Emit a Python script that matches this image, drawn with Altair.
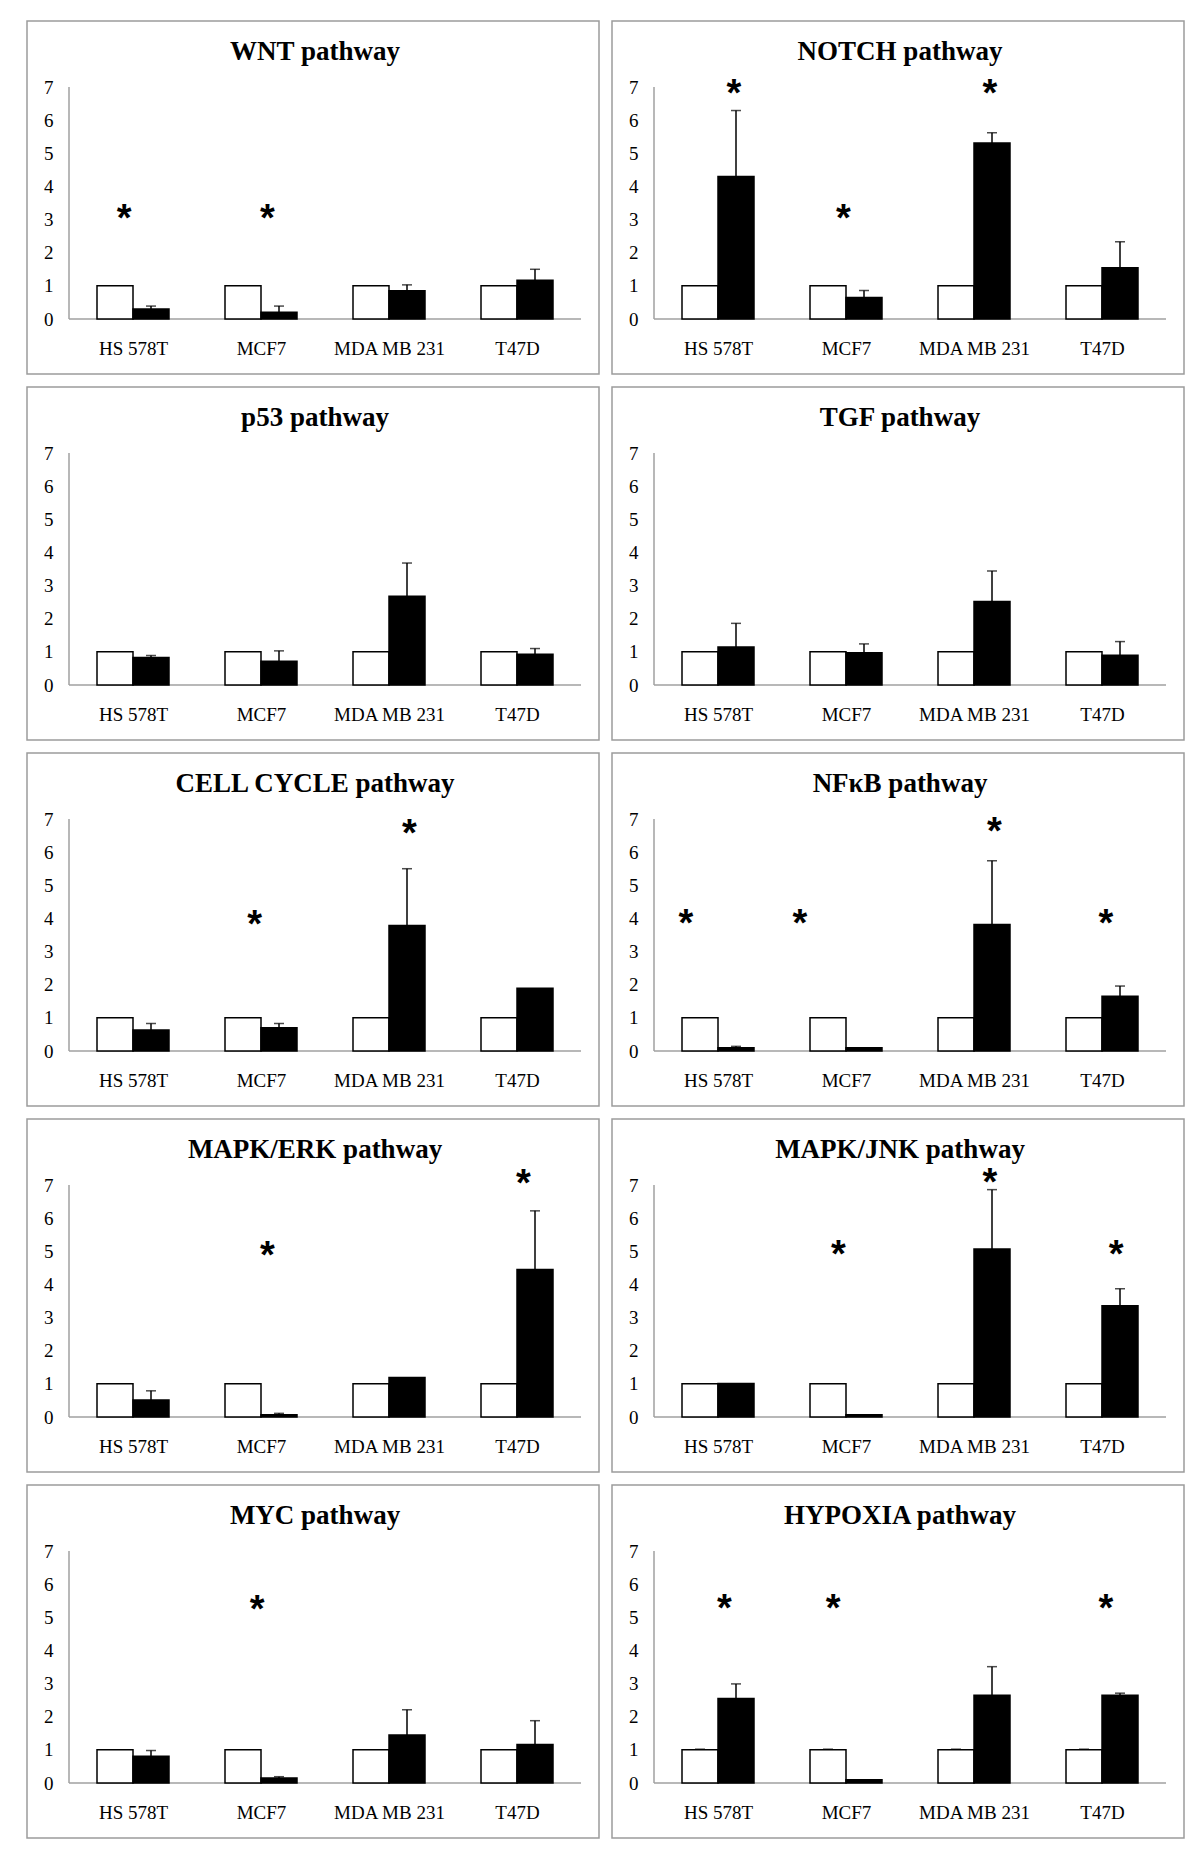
import json
import altair as alt
import pandas as pd

# ---------------- data ----------------
CELLS = ["HS 578T", "MCF7", "MDA MB 231", "T47D"]
CONTROL = [1.0, 1.0, 1.0, 1.0]
NO_ERR = [0.0, 0.0, 0.0, 0.0]

TITLES = ["WNT pathway", "NOTCH pathway", "p53 pathway", "TGF pathway",
          "CELL CYCLE pathway", "NFκB pathway", "MAPK/ERK pathway",
          "MAPK/JNK pathway", "MYC pathway", "HYPOXIA pathway"]

WNT_MEAN = [0.30, 0.20, 0.85, 1.17]
WNT_ERR = [0.09, 0.19, 0.18, 0.33]
WNT_STARS = [[0, 3.29, -0.07], [1, 3.29, 0.05]]

NOTCH_MEAN = [4.30, 0.65, 5.31, 1.55]
NOTCH_ERR = [1.99, 0.21, 0.31, 0.78]
NOTCH_STARS = [[0, 7.07, 0.125], [1, 3.28, -0.02], [2, 7.07, 0.125]]

P53_MEAN = [0.83, 0.72, 2.68, 0.93]
P53_ERR = [0.06, 0.31, 1.00, 0.17]
P53_STARS = []

TGF_MEAN = [1.15, 0.97, 2.52, 0.90]
TGF_ERR = [0.71, 0.27, 0.92, 0.41]
TGF_STARS = []

CC_MEAN = [0.63, 0.70, 3.79, 1.89]
CC_ERR = [0.20, 0.13, 1.71, 0.0]
CC_STARS = [[1, 4.07, -0.05], [2, 6.83, 0.16]]

NFKB_MEAN = [0.10, 0.10, 3.82, 1.65]
NFKB_ERR = [0.04, 0.0, 1.92, 0.31]
NFKB_STARS = [[0, 4.10, -0.25], [1, 4.10, -0.36], [2, 6.87, 0.16], [3, 4.10, 0.03]]

ERK_MEAN = [0.51, 0.07, 1.19, 4.45]
ERK_ERR = [0.28, 0.04, 0.0, 1.77]
ERK_STARS = [[1, 5.13, 0.05], [3, 7.30, 0.05]]

JNK_MEAN = [1.01, 0.07, 5.07, 3.36]
JNK_ERR = [0.0, 0.0, 1.79, 0.51]
JNK_STARS = [[1, 5.17, -0.06], [2, 7.33, 0.125], [3, 5.17, 0.11]]

MYC_MEAN = [0.81, 0.15, 1.45, 1.16]
MYC_ERR = [0.17, 0.04, 0.76, 0.72]
MYC_STARS = [[1, 5.49, -0.03]]

HYP_MEAN = [2.55, 0.10, 2.65, 2.65]
HYP_ERR = [0.44, 0.0, 0.86, 0.06]
HYP_CTRL_ERR = [0.02, 0.02, 0.02, 0.02]
HYP_STARS = [[0, 5.52, 0.05], [1, 5.52, -0.10], [3, 5.52, 0.03]]

Y_TICKS = [0, 1, 2, 3, 4, 5, 6, 7]

# ---------------- layout constants ----------------
PW, PH = 572, 353          # panel box
AX_L, AX_R = 42, 18        # px from box edge to axis ends
AX_T, AX_B = 66, 55        # px from box top to "7", from box bottom to "0"
N = len(CELLS)
UNIT_X = (PW - AX_L - AX_R) / N
YMAX = Y_TICKS[-1]
UNIT_Y = (PH - AX_T - AX_B) / YMAX
XDOM = [-0.5 - AX_L / UNIT_X, N - 0.5 + AX_R / UNIT_X]
YDOM = [-AX_B / UNIT_Y, YMAX + AX_T / UNIT_Y]
BW = 36 / UNIT_X

SERIF = "Liberation Serif"
GRAY = "#a0a0a0"

XSCALE = alt.Scale(domain=XDOM, nice=False, zero=False)
YSCALE = alt.Scale(domain=YDOM, nice=False, zero=False)
XAXIS = alt.Axis(values=list(range(N)),
                 labelExpr=json.dumps(CELLS) + "[datum.value]",
                 offset=-AX_B, domain=False, ticks=False, tickSize=0, grid=False,
                 labelPadding=29, labelBaseline="middle", labelFont=SERIF,
                 labelFontSize=19, labelColor="black", labelFlush=False,
                 labelOverlap=False, title=None)
YAXIS = alt.Axis(values=Y_TICKS, offset=-AX_L, domain=False, ticks=False, tickSize=0,
                 grid=False, labelPadding=16, labelFont=SERIF, labelFontSize=19,
                 labelColor="black", labelFlush=False, labelOverlap=False, title=None)


def X(field):
    return alt.X(field, type="quantitative", scale=XSCALE, axis=XAXIS)


def Y(field):
    return alt.Y(field, type="quantitative", scale=YSCALE, axis=YAXIS)


def panel(title, mean, err, stars, ctrl_err):
    rows = []
    for i, c in enumerate(CELLS):
        rows.append(dict(cell=c, grp="control", x0=i - BW, x1=i, xc=i - BW / 2,
                         v=CONTROL[i], top=CONTROL[i] + ctrl_err[i], e=ctrl_err[i]))
        rows.append(dict(cell=c, grp="treated", x0=i, x1=i + BW, xc=i + BW / 2,
                         v=mean[i], top=mean[i] + err[i], e=err[i]))
    df = pd.DataFrame(rows)
    base = alt.Chart(df)

    axes_df = pd.DataFrame([
        dict(a=-0.5, b=N - 0.5, c=0, d=0),
        dict(a=-0.5, b=-0.5, c=0, d=YMAX),
    ])
    axis_lines = alt.Chart(axes_df).mark_rule(color=GRAY, strokeWidth=1.5).encode(
        x=X("a"), x2="b", y=Y("c"), y2="d")

    bars = base.mark_bar(stroke="black", strokeWidth=1.5).encode(
        x=X("x0"), x2="x1", y=Y("v"), y2=alt.datum(0),
        fill=alt.Fill("grp:N", scale=alt.Scale(domain=["control", "treated"],
                                               range=["white", "black"]), legend=None))

    errs = base.transform_filter("datum.e > 0")
    stems = errs.mark_rule(color="black", strokeWidth=1.5).encode(
        x=X("xc"), y=Y("v"), y2="top")
    caps = errs.mark_tick(color="black", orient="horizontal", size=10, thickness=1.5).encode(
        x=X("xc"), y=Y("top"))

    ttl = alt.Chart(alt.Data(values=[{"t": title}])).mark_text(
        font=SERIF, fontWeight="bold", fontSize=27, align="center", baseline="middle",
        color="black").encode(text="t:N", x=alt.value(PW / 2 + 2), y=alt.value(31))

    layers = [axis_lines, bars, stems, caps, ttl]
    if stars:
        sdf = pd.DataFrame([dict(sx=s[0] + s[2], sy=s[1]) for s in stars])
        star = alt.Chart(sdf).mark_text(
            text="*", font="Liberation Sans", fontWeight="bold", fontSize=38,
            align="center", baseline="alphabetic", dy=21, color="black").encode(
            x=X("sx"), y=Y("sy"))
        layers.append(star)
    return alt.layer(*layers).properties(width=PW, height=PH)


specs = [
    (WNT_MEAN, WNT_ERR, WNT_STARS, NO_ERR),
    (NOTCH_MEAN, NOTCH_ERR, NOTCH_STARS, NO_ERR),
    (P53_MEAN, P53_ERR, P53_STARS, NO_ERR),
    (TGF_MEAN, TGF_ERR, TGF_STARS, NO_ERR),
    (CC_MEAN, CC_ERR, CC_STARS, NO_ERR),
    (NFKB_MEAN, NFKB_ERR, NFKB_STARS, NO_ERR),
    (ERK_MEAN, ERK_ERR, ERK_STARS, NO_ERR),
    (JNK_MEAN, JNK_ERR, JNK_STARS, NO_ERR),
    (MYC_MEAN, MYC_ERR, MYC_STARS, NO_ERR),
    (HYP_MEAN, HYP_ERR, HYP_STARS, HYP_CTRL_ERR),
]
panels = [panel(t, *s) for t, s in zip(TITLES, specs)]
rows = [alt.hconcat(panels[k], panels[k + 1], spacing=11) for k in range(0, len(panels), 2)]

chart = alt.vconcat(*rows, spacing=11).properties(
    padding={"left": 18, "top": 12, "right": 5, "bottom": 5},
    background="white",
).configure_view(stroke="#9c9c9c", strokeWidth=1.5)

chart.save("out.html", embed_options={"renderer": "svg", "actions": False})
